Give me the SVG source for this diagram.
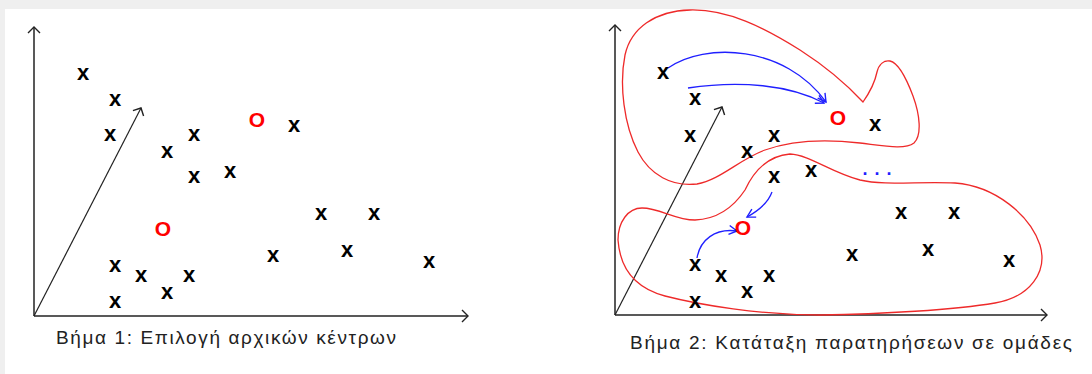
<svg xmlns="http://www.w3.org/2000/svg" width="1092" height="374" viewBox="0 0 1092 374">
<defs>
<marker id="ah" markerUnits="userSpaceOnUse" markerWidth="16" markerHeight="16" viewBox="-8 -8 16 16" refX="0" refY="0" orient="auto" overflow="visible">
<path d="M-6,-6 L0,0 L-6,6" fill="none" stroke="#222" stroke-width="1.4"/>
</marker>
<marker id="bh" markerUnits="userSpaceOnUse" markerWidth="16" markerHeight="16" viewBox="-8 -8 16 16" refX="0" refY="0" orient="auto" overflow="visible">
<path d="M-8,-4.5 L0,0 L-8,4.5" fill="none" stroke="#1f1fff" stroke-width="1.4"/>
</marker>
</defs>
<style>
.ax{fill:none;stroke:#222;stroke-width:1.5}
.dg{fill:none;stroke:#222;stroke-width:1.2}
.x{font-family:"Liberation Sans",Arial,sans-serif;font-weight:bold;font-size:22px;fill:#000;text-anchor:middle}
.o{font-family:"Liberation Sans",Arial,sans-serif;font-weight:bold;font-size:21px;fill:#f00;text-anchor:middle}
.cap{font-family:"Liberation Sans",Arial,sans-serif;font-size:19px;fill:#222}
.blob{fill:none;stroke:#ee2a2a;stroke-width:1.3}
.ba{fill:none;stroke:#1f1fff;stroke-width:1.3}
.dots{font-family:"Liberation Sans",Arial,sans-serif;font-weight:bold;font-size:18px;fill:#1f1fff;letter-spacing:7px}
</style>
<rect x="0" y="0" width="1092" height="374" fill="#efefef"/>
<rect x="5" y="9" width="1087" height="365" fill="#fff"/>

<g id="connectors">
<path class="ax" d="M34,316 L34,27" marker-end="url(#ah)"/>
<path class="ax" d="M34,316 L468,316" marker-end="url(#ah)"/>
<path class="dg" d="M34,316 L141,108" marker-end="url(#ah)"/>
<path class="ax" d="M615,315 L615,25" marker-end="url(#ah)"/>
<path class="ax" d="M615,315 L1047,315" marker-end="url(#ah)"/>
<path class="dg" d="M615,315 L722,107" marker-end="url(#ah)"/>
<path class="ba" d="M668,68 C705,42 785,45 826,102" marker-end="url(#bh)"/>
<path class="ba" d="M688,88 C740,80 790,85 824,103" marker-end="url(#bh)"/>
<path class="ba" d="M772,192 C768,203 758,211 747,217" marker-end="url(#bh)"/>
<path class="ba" d="M697,258 C700,240 715,228 737,231" marker-end="url(#bh)"/>
</g>

<g id="cluster-upper">
<path class="blob" d="M863,102 C870,92 875,82 877,72 C879,64 884,60 890,61 C899,63 907,80 913,96 C920,115 922,135 914,143 C905,150 885,146 860,143 C825,139 790,141 765,150 C740,159 720,180 697,184 C672,187 650,175 638,152 C624,125 619,85 625,55 C631,28 655,11 690,10 C728,9 765,28 800,50 C828,68 850,88 863,102 Z"/>
</g>
<g id="cluster-lower">
<path class="blob" d="M790,154 C810,155 830,172 860,180 C885,186 920,181 955,183 C995,186 1030,215 1040,245 C1048,272 1030,297 995,303 C955,310 880,314 820,315 C760,315 700,305 665,296 C635,288 620,268 618,240 C618,222 628,208 642,208 C660,208 675,220 695,220 C720,219 735,205 745,190 C752,175 765,156 790,154 Z"/>
</g>

<g id="step1-points">
<text class="x" x="83" y="79.5">x</text>
<text class="x" x="115" y="105.5">x</text>
<text class="x" x="110" y="140.5">x</text>
<text class="x" x="194" y="140.5">x</text>
<text class="x" x="167" y="157.5">x</text>
<text class="x" x="194" y="182.5">x</text>
<text class="x" x="230" y="177.5">x</text>
<text class="x" x="294" y="131.5">x</text>
<text class="x" x="321" y="219.5">x</text>
<text class="x" x="374" y="219.5">x</text>
<text class="x" x="347" y="256.5">x</text>
<text class="x" x="273" y="261.5">x</text>
<text class="x" x="429" y="267.5">x</text>
<text class="x" x="115" y="271.5">x</text>
<text class="x" x="141" y="281.5">x</text>
<text class="x" x="189" y="281.5">x</text>
<text class="x" x="167" y="298.5">x</text>
<text class="x" x="115" y="307.5">x</text>
</g>
<g id="step1-centers">
<text class="o" x="257" y="126.5">O</text>
<text class="o" x="163" y="235.5">O</text>
</g>

<g id="step2-points">
<text class="x" x="663" y="78.5">x</text>
<text class="x" x="695" y="104.5">x</text>
<text class="x" x="690" y="141.5">x</text>
<text class="x" x="774" y="141.5">x</text>
<text class="x" x="747" y="157.5">x</text>
<text class="x" x="875" y="130.5">x</text>
<text class="x" x="774" y="182.5">x</text>
<text class="x" x="811" y="176.5">x</text>
<text class="x" x="901" y="218.5">x</text>
<text class="x" x="954" y="218.5">x</text>
<text class="x" x="928" y="255.5">x</text>
<text class="x" x="852" y="260.5">x</text>
<text class="x" x="1009" y="266.5">x</text>
<text class="x" x="695" y="270.5">x</text>
<text class="x" x="721" y="281.5">x</text>
<text class="x" x="769" y="281.5">x</text>
<text class="x" x="747" y="297.5">x</text>
<text class="x" x="695" y="307.5">x</text>
</g>
<g id="step2-centers">
<text class="o" x="838" y="124.5">O</text>
<text class="o" x="743" y="234.5">O</text>
</g>
<g id="ellipsis">
<text class="dots" x="862.5" y="175">...</text>
</g>

<g id="captions">
<text class="cap" x="56" y="344" textLength="340" lengthAdjust="spacing">Βήμα 1: Επιλογή αρχικών κέντρων</text>
<text class="cap" x="630" y="348.5" textLength="442" lengthAdjust="spacing">Βήμα 2: Κατάταξη παρατηρήσεων σε ομάδες</text>
</g>
</svg>
